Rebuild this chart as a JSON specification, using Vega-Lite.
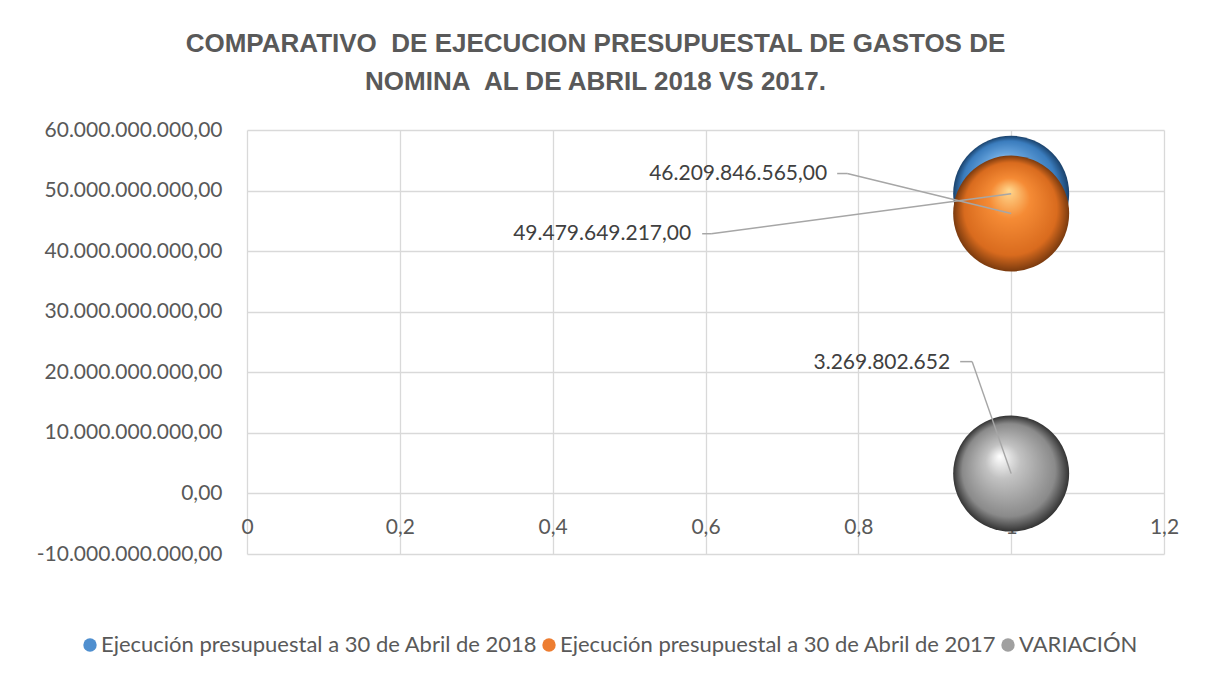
{
  "$schema": "https://vega.github.io/schema/vega-lite/v6.json",
  "width": 917,
  "height": 424,
  "autosize": {"type": "none"},
  "padding": {"left": 247, "top": 130, "right": 45, "bottom": 119},
  "background": "white",
  "title": {
    "text": ["COMPARATIVO \u00a0DE EJECUCION PRESUPUESTAL DE GASTOS DE", "NOMINA \u00a0AL DE ABRIL 2018 VS 2017."],
    "font": "Liberation Sans",
    "fontSize": 26,
    "fontWeight": "bold",
    "color": "#595959",
    "anchor": "middle",
    "frame": "group",
    "dx": -110,
    "lineHeight": 38.5,
    "offset": 24
  },
  "data": {
    "values": [
      {"serie": "Ejecución presupuestal a 30 de Abril de 2018", "x": 1, "valor": 49479649217},
      {"serie": "Ejecución presupuestal a 30 de Abril de 2017", "x": 1, "valor": 46209846565},
      {"serie": "VARIACIÓN", "x": 1, "valor": 3269802652}
    ]
  },
  "encoding": {
    "x": {
      "field": "x", "type": "quantitative",
      "scale": {"domain": [0, 1.2], "nice": false, "zero": false},
      "axis": {
        "title": null, "values": [0, 0.2, 0.4, 0.6, 0.8, 1, 1.2], "format": ".1~f",
        "grid": true, "gridColor": "#d9d9d9", "gridWidth": 1.3,
        "domain": false, "ticks": false,
        "labelBaseline": "top", "labelPadding": -38,
        "labelFont": "Lato", "labelFontSize": 21, "labelColor": "#595959",
        "labelFlush": false, "labelOverlap": false
      }
    },
    "y": {
      "field": "valor", "type": "quantitative",
      "scale": {"domain": [-10000000000, 60000000000], "nice": false, "zero": false},
      "axis": {
        "title": null,
        "values": [-10000000000, 0, 10000000000, 20000000000, 30000000000, 40000000000, 50000000000, 60000000000],
        "format": ",.2f",
        "grid": true, "gridColor": "#d9d9d9", "gridWidth": 1.3,
        "domain": false, "ticks": false,
        "labelPadding": 25, "labelLimit": 0,
        "labelFont": "Lato", "labelFontSize": 21, "labelColor": "#595959",
        "labelOverlap": false, "labelFlush": false
      }
    }
  },
  "layer": [
    {
      "mark": {"type": "circle", "size": 13456, "opacity": 0},
      "encoding": {
        "color": {
          "field": "serie", "type": "nominal",
          "scale": {
            "domain": ["Ejecución presupuestal a 30 de Abril de 2018", "Ejecución presupuestal a 30 de Abril de 2017", "VARIACIÓN"],
            "range": ["#4f8fcf", "#ed7d31", "#a0a0a0"]
          },
          "legend": {
            "title": null, "orient": "none", "legendX": -168, "legendY": 504,
            "direction": "horizontal", "padding": 0,
            "symbolType": "circle", "symbolSize": 180, "symbolStrokeWidth": 0, "symbolOpacity": 1,
            "labelFont": "Lato", "labelFontSize": 22, "labelColor": "#595959",
            "labelLimit": 0, "labelOffset": 0, "columnPadding": 0
          }
        }
      }
    },
    {
      "transform": [{"filter": "datum.serie === 'Ejecución presupuestal a 30 de Abril de 2018'"}],
      "mark": {"type": "circle", "size": 13456, "opacity": 1,
        "color": {"gradient": "radial", "x1": 0.42, "y1": 0.25, "r1": 0, "x2": 0.5, "y2": 0.5, "r2": 0.5,
          "stops": [{"offset": 0, "color": "#b4d6f5"}, {"offset": 0.4, "color": "#66a3dc"}, {"offset": 0.82, "color": "#3a7cbd"}, {"offset": 1, "color": "#1a416a"}]}}
    },
    {
      "transform": [{"filter": "datum.serie === 'Ejecución presupuestal a 30 de Abril de 2017'"}],
      "mark": {"type": "circle", "size": 13456, "opacity": 1,
        "color": {"gradient": "radial", "x1": 0.48, "y1": 0.3, "r1": 0, "x2": 0.5, "y2": 0.5, "r2": 0.5,
          "stops": [{"offset": 0, "color": "#ffd88f"}, {"offset": 0.35, "color": "#f58b35"}, {"offset": 0.8, "color": "#d96b1e"}, {"offset": 1, "color": "#7a3a0e"}]}}
    },
    {
      "transform": [{"filter": "datum.serie === 'VARIACIÓN'"}],
      "mark": {"type": "circle", "size": 13456, "opacity": 1,
        "color": {"gradient": "radial", "x1": 0.4, "y1": 0.35, "r1": 0, "x2": 0.5, "y2": 0.5, "r2": 0.5,
          "stops": [{"offset": 0, "color": "#ffffff"}, {"offset": 0.3, "color": "#c2c2c2"}, {"offset": 0.8, "color": "#8a8a8a"}, {"offset": 1, "color": "#333333"}]}}
    },
    {
      "transform": [{"filter": "datum.serie === 'Ejecución presupuestal a 30 de Abril de 2017'"}],
      "mark": {"type": "rule", "color": "#a6a6a6", "strokeWidth": 1.5, "x2Offset": -164, "y2Offset": -40},
      "encoding": {"x2": {"field": "x"}, "y2": {"field": "valor"}}
    },
    {
      "transform": [{"filter": "datum.serie === 'Ejecución presupuestal a 30 de Abril de 2017'"}],
      "mark": {"type": "rule", "color": "#a6a6a6", "strokeWidth": 1.5, "xOffset": -164, "x2Offset": -174, "yOffset": -40},
      "encoding": {"x2": {"field": "x"}}
    },
    {
      "transform": [{"filter": "datum.serie === 'Ejecución presupuestal a 30 de Abril de 2018'"}],
      "mark": {"type": "rule", "color": "#a6a6a6", "strokeWidth": 1.5, "x2Offset": -300, "y2Offset": 40},
      "encoding": {"x2": {"field": "x"}, "y2": {"field": "valor"}}
    },
    {
      "transform": [{"filter": "datum.serie === 'Ejecución presupuestal a 30 de Abril de 2018'"}],
      "mark": {"type": "rule", "color": "#a6a6a6", "strokeWidth": 1.5, "xOffset": -300, "x2Offset": -309, "yOffset": 40},
      "encoding": {"x2": {"field": "x"}}
    },
    {
      "transform": [{"filter": "datum.serie === 'VARIACIÓN'"}],
      "mark": {"type": "rule", "color": "#a6a6a6", "strokeWidth": 1.5, "x2Offset": -39, "y2Offset": -112},
      "encoding": {"x2": {"field": "x"}, "y2": {"field": "valor"}}
    },
    {
      "transform": [{"filter": "datum.serie === 'VARIACIÓN'"}],
      "mark": {"type": "rule", "color": "#a6a6a6", "strokeWidth": 1.5, "xOffset": -39, "x2Offset": -51, "yOffset": -112},
      "encoding": {"x2": {"field": "x"}}
    },
    {
      "transform": [{"filter": "datum.serie === 'Ejecución presupuestal a 30 de Abril de 2017'"}],
      "mark": {"type": "text", "align": "right", "baseline": "middle", "dx": -184, "dy": -40, "font": "Lato", "fontSize": 21, "color": "#404040"},
      "encoding": {"text": {"field": "valor", "type": "quantitative", "format": ",.2f"}}
    },
    {
      "transform": [{"filter": "datum.serie === 'Ejecución presupuestal a 30 de Abril de 2018'"}],
      "mark": {"type": "text", "align": "right", "baseline": "middle", "dx": -320, "dy": 40, "font": "Lato", "fontSize": 21, "color": "#404040"},
      "encoding": {"text": {"field": "valor", "type": "quantitative", "format": ",.2f"}}
    },
    {
      "transform": [{"filter": "datum.serie === 'VARIACIÓN'"}],
      "mark": {"type": "text", "align": "right", "baseline": "middle", "dx": -61, "dy": -111, "font": "Lato", "fontSize": 21, "color": "#404040"},
      "encoding": {"text": {"field": "valor", "type": "quantitative", "format": ",.0f"}}
    }
  ],
  "config": {
    "view": {"stroke": null},
    "locale": {"number": {"decimal": ",", "thousands": ".", "grouping": [3], "currency": ["$", ""], "minus": "-"}}
  }
}
